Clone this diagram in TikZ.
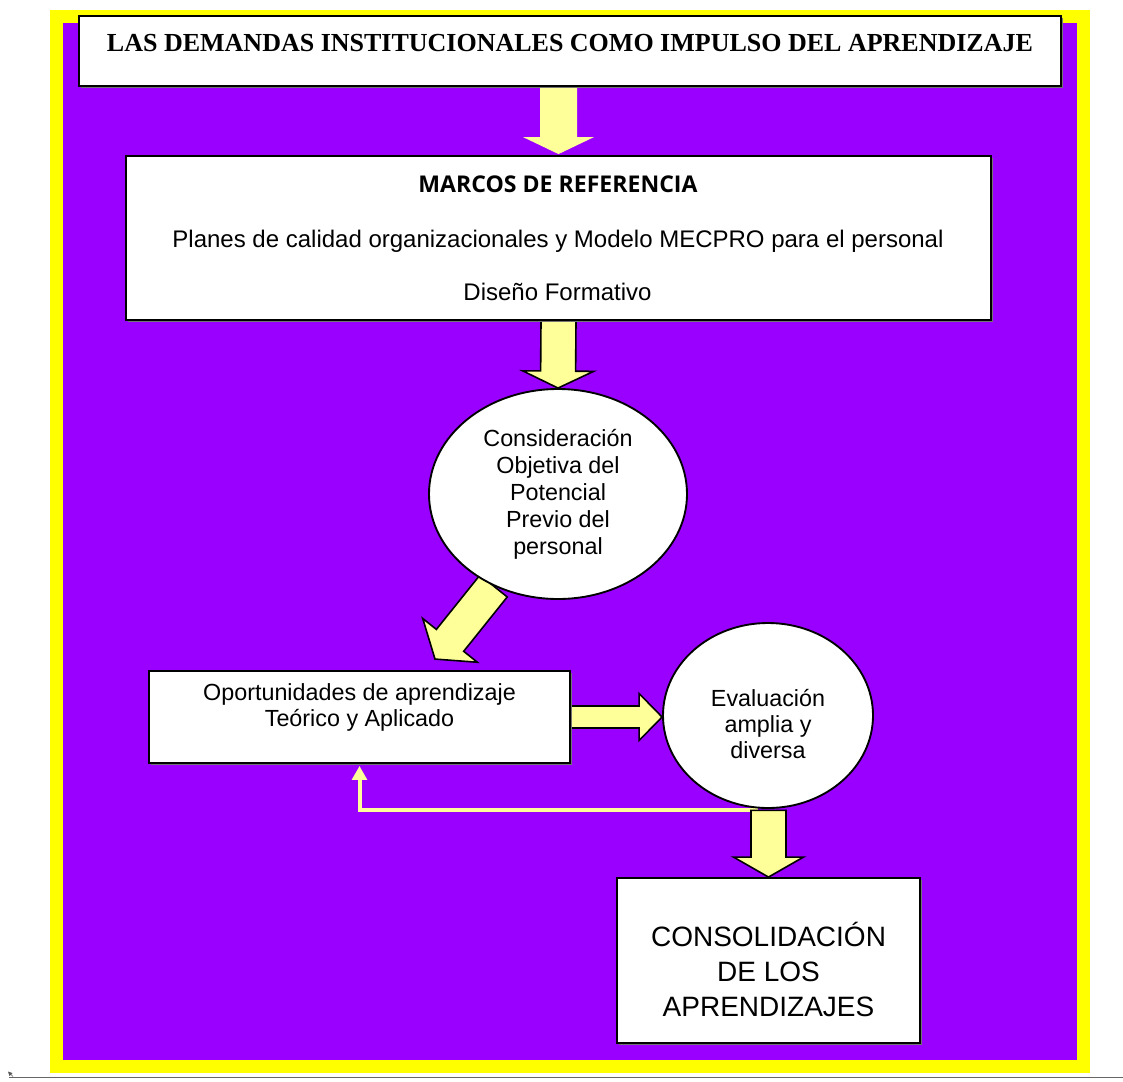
\documentclass[tikz,border=0pt]{standalone}
\usepackage{fontspec}
\setmainfont{Liberation Sans}
\newfontfamily\titlefont{Liberation Serif}
\newfontfamily\headfont{Open Sans}
\usetikzlibrary{calc,shapes.geometric,arrows.meta,shadows}

\definecolor{framepurple}{HTML}{9900FF}
\definecolor{frameyellow}{HTML}{FFFF00}
\definecolor{arrowfill}{HTML}{FFFF99}

\pgfdeclarelayer{frame}
\pgfdeclarelayer{flow}
\pgfsetlayers{frame,flow,main}

\tikzset{
  box/.style={draw=black, line width=1.4pt, fill=white, inner sep=0pt,
    drop shadow={shadow xshift=1.2pt, shadow yshift=-1.2pt, fill=black!55, opacity=1}},
  oval/.style={ellipse, draw=black, line width=1.4pt, fill=white, inner sep=0pt},
  txt/.style={inner sep=0pt, align=center},
  blockarr/.style={fill=arrowfill, draw=black, line width=1.2pt, line join=miter},
  blockarrplain/.style={fill=arrowfill},
  feedback/.style={draw=arrowfill, line width=3pt, line join=miter,
    -{Triangle[width=11pt,length=10.5pt]}}
}

% wide block arrow: [style]{from}{to}{half shaft}{half head}{head length}
\newcommand\blockarrow[6][blockarr]{%
  \path ($(#3)!#6!(#2)$) coordinate (ba-base);
  \path[#1] ($(#2)!#4!90:(#3)$) -- ($(ba-base)!#4!90:(#3)$)
    -- ($(ba-base)!#5!90:(#3)$) -- (#3)
    -- ($(ba-base)!#5!-90:(#3)$) -- ($(ba-base)!#4!-90:(#3)$)
    -- ($(#2)!#4!-90:(#3)$) -- cycle;
}

\begin{document}
\begin{tikzpicture}[x=0.75pt,y=-0.75pt]
\useasboundingbox (0,0) rectangle (1123,1081);

% frame
\begin{pgfonlayer}{frame}
  \fill[frameyellow] (50,10) rectangle (1090,1073);
  \fill[framepurple] (63,23) rectangle (1077,1060);
  \draw[black!60, line width=1.1pt] (9,1077.5) -- (1123,1077.5);
  \fill[black!65] (8,1071.5) -- (12.5,1073) -- (9.5,1076) -- cycle;
  \draw[black!65, line width=0.5pt] (10,1073.5) -- (13,1076.5);
\end{pgfonlayer}

% title
\node[box, minimum width=736.5pt, minimum height=52.5pt] (top) at (570,51) {};
\node[txt, anchor=base, font=\titlefont\bfseries\fontsize{19.5}{23}\selectfont] (toptxt) at (570,52)
  {LAS DEMANDAS INSTITUCIONALES COMO IMPULSO DEL APRENDIZAJE};

% reference frameworks
\node[box, minimum width=648.75pt, minimum height=123pt] (marcos) at (558.5,238) {};
\node[txt, anchor=base, font=\headfont\bfseries\fontsize{17.3}{20}\selectfont] (marcostitle) at (558,192)
  {MARCOS DE REFERENCIA};
\node[txt, anchor=base, font=\fontsize{18}{21}\selectfont] (planes) at (558,247)
  {Planes de calidad organizacionales y Modelo MECPRO para el personal};
\node[txt, anchor=base, font=\fontsize{18}{21}\selectfont] (diseno) at (557.5,300)
  {Diseño Formativo};

% prior potential
\node[oval, minimum width=193.5pt, minimum height=157.5pt, align=center,
      font=\fontsize{17.5}{20.25}\selectfont] (potencial) at (558,494)
  {Consideración\\Objetiva del\\Potencial\\Previo del\\personal};

% learning opportunities
\node[box, minimum width=315.75pt, minimum height=69pt] (opp) at (359.5,717) {};
\node[txt, font=\fontsize{17.5}{19.5}\selectfont] (opptxt) at (359.5,707.5)
  {Oportunidades de aprendizaje\\Teórico y Aplicado};

% evaluation
\node[oval, minimum width=157.5pt, minimum height=138.75pt] (evaluacion) at (768,715.5) {};
\node[txt, font=\fontsize{17.5}{19.5}\selectfont] (evaltxt) at (768,724.5)
  {Evaluación\\amplia y\\diversa};

% consolidation
\node[box, minimum width=227.25pt, minimum height=123.75pt] (consol) at (768.5,960.5) {};
\node[txt, font=\fontsize{21}{25.9}\selectfont] (consoltxt) at (768.5,969.5)
  {CONSOLIDACIÓN\\DE LOS\\APRENDIZAJES};

% connectors
\coordinate (a1from) at (marcos.north |- top.south);
\coordinate (a1to) at ($(marcos.north)+(0,-1)$);
\coordinate (a3from) at (potencial.235);
\coordinate (a3to) at ($(opp.north)+(75.5,-11)$);
\coordinate (a4to) at (evaluacion.west |- opp.east);
\coordinate (fbstart) at ($(evaluacion.south)+(-10,1.5)$);
\coordinate (a5from) at (consol.north |- fbstart);
\coordinate (fbend) at ($(opp.south)+(0,2)$);

\begin{pgfonlayer}{flow}
  \blockarrow[blockarrplain]{a1from}{a1to}{13.875pt}{26.625pt}{12.75pt}
  \blockarrow{marcos.south}{potencial.north}{13.125pt}{26.625pt}{12.75pt}
  \blockarrow{a3from}{a3to}{13.125pt}{26.25pt}{18pt}
  \blockarrow{opp.east}{a4to}{8.25pt}{17.625pt}{17.25pt}
  \draw[feedback] (fbstart) -- (opp.south |- fbstart) -- (fbend);
  \blockarrow{a5from}{consol.north}{13.125pt}{26.25pt}{15pt}
\end{pgfonlayer}
\end{tikzpicture}
\end{document}
